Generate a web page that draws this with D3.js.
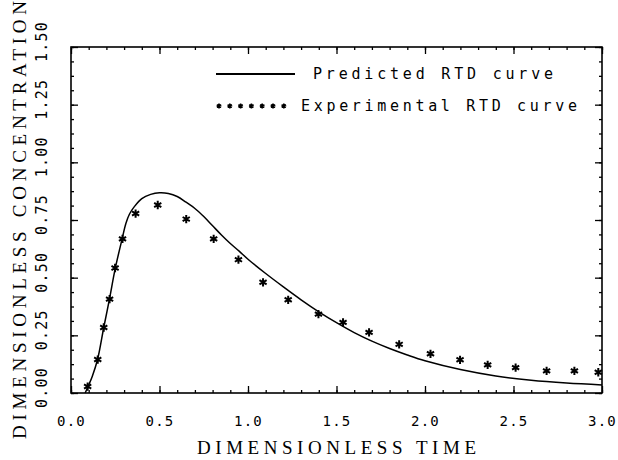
<!DOCTYPE html>
<html><head><meta charset="utf-8">
<script src="https://cdn.jsdelivr.net/npm/d3@7"></script>
<style>body{margin:0;background:#fff}</style>
</head><body><svg id="c" width="618" height="460"></svg>
<script>
const xTicks=[0,0.5,1,1.5,2,2.5,3];
const yTicks=[0,0.25,0.5,0.75,1,1.25,1.5];
const xTickLabels=["0.0","0.5","1.0","1.5","2.0","2.5","3.0"];
const yTickLabels=["0.00","0.25","0.50","0.75","1.00","1.25","1.50"];
const predT=[0.08,0.10,0.12,0.15,0.185,0.218,0.25,0.29,0.31,0.33,0.36,0.40,0.45,0.50,0.55,0.60,0.65,0.70,0.75,0.80,0.85,0.90,0.95,1.00,1.10,1.20,1.30,1.40,1.50,1.60,1.70,1.80,1.90,2.00,2.20,2.40,2.60,2.80,3.00];
const predC=[0.0,0.035,0.072,0.145,0.284,0.41,0.54,0.672,0.735,0.775,0.810,0.843,0.861,0.868,0.865,0.852,0.827,0.800,0.765,0.725,0.685,0.648,0.615,0.580,0.518,0.460,0.404,0.352,0.305,0.262,0.225,0.193,0.165,0.140,0.102,0.074,0.055,0.043,0.035];
const expT=[0.094,0.151,0.185,0.218,0.249,0.291,0.365,0.490,0.651,0.806,0.946,1.085,1.227,1.398,1.537,1.684,1.854,2.031,2.198,2.354,2.512,2.687,2.844,2.979];
const expC=[0.028,0.145,0.284,0.407,0.542,0.668,0.778,0.815,0.754,0.668,0.578,0.480,0.404,0.342,0.306,0.263,0.211,0.170,0.144,0.122,0.110,0.096,0.096,0.090];
const legendLabels=["Predicted RTD curve","Experimental RTD curve"];
const xTitle="DIMENSIONLESS TIME";
const yTitle="DIMENSIONLESS CONCENTRATION";

const svg=d3.select("#c");
const L=71,R=602,T=47,B=393;
const x=d3.scaleLinear().domain([0,3]).range([L,R]);
const y=d3.scaleLinear().domain([0,1.5]).range([B,T]);
const xMinor=d3.range(0,3.001,0.1);
const yMinor=d3.range(0,1.5001,0.0625);
const monoFont="'DejaVu Sans Mono', monospace";
const serifFont="'Liberation Serif', 'DejaVu Serif', serif";

function styleAxis(g){g.select(".domain").remove();g.selectAll("line").attr("stroke","#000").attr("stroke-width",1.3);}

// minor ticks
svg.append("g").attr("transform",`translate(0,${B})`).call(d3.axisBottom(x).tickValues(xMinor).tickSize(-3).tickFormat("")).call(styleAxis);
svg.append("g").attr("transform",`translate(0,${T})`).call(d3.axisTop(x).tickValues(xMinor).tickSize(-3).tickFormat("")).call(styleAxis);
svg.append("g").attr("transform",`translate(${L},0)`).call(d3.axisLeft(y).tickValues(yMinor).tickSize(-3).tickFormat("")).call(styleAxis);
svg.append("g").attr("transform",`translate(${R},0)`).call(d3.axisRight(y).tickValues(yMinor).tickSize(-3).tickFormat("")).call(styleAxis);

// major ticks + labels
const gx=svg.append("g").attr("transform",`translate(0,${B})`)
  .call(d3.axisBottom(x).tickValues(xTicks).tickSize(-7).tickFormat((d,i)=>xTickLabels[i])).call(styleAxis);
gx.selectAll("text").attr("y",28).attr("dy","0.35em").attr("font-family",monoFont).attr("font-size",14).attr("letter-spacing",1.2).attr("fill","#000");
svg.append("g").attr("transform",`translate(0,${T})`).call(d3.axisTop(x).tickValues(xTicks).tickSize(-7).tickFormat("")).call(styleAxis);
const gy=svg.append("g").attr("transform",`translate(${L},0)`)
  .call(d3.axisLeft(y).tickValues(yTicks).tickSize(-7).tickFormat((d,i)=>yTickLabels[i])).call(styleAxis);
gy.selectAll("text").attr("x",null).attr("dy",null).attr("text-anchor","middle").attr("dominant-baseline","central")
  .attr("transform","translate(-29,-6) rotate(-90)").attr("font-family",monoFont).attr("font-size",15).attr("letter-spacing",1.2).attr("fill","#000");
svg.append("g").attr("transform",`translate(${R},0)`).call(d3.axisRight(y).tickValues(yTicks).tickSize(-7).tickFormat("")).call(styleAxis);

// frame
svg.append("rect").attr("x",L).attr("y",T).attr("width",R-L).attr("height",B-T).attr("fill","none").attr("stroke","#000").attr("stroke-width",1.6);

// titles
svg.append("text").attr("x",(L+R)/2).attr("y",447).attr("text-anchor","middle").attr("dominant-baseline","central")
  .attr("font-family",serifFont).attr("font-size",19).attr("textLength",279).attr("lengthAdjust","spacing").attr("fill","#000").text(xTitle);
svg.append("text").attr("transform",`translate(19,${(T+B)/2}) rotate(-90)`).attr("text-anchor","middle").attr("dominant-baseline","central")
  .attr("font-family",serifFont).attr("font-size",19).attr("textLength",438).attr("lengthAdjust","spacing").attr("fill","#000").text(yTitle);

// predicted curve
const line=d3.line().x((d,i)=>x(predT[i])).y((d,i)=>y(predC[i])).curve(d3.curveCatmullRom.alpha(0.5));
svg.append("path").datum(predT).attr("d",line).attr("fill","none").attr("stroke","#000").attr("stroke-width",1.5);

// experimental stars
const star=d3.symbol(d3.symbolAsterisk,48);
svg.append("g").selectAll("path").data(expT).join("path")
  .attr("transform",(d,i)=>`translate(${x(d)},${y(expC[i])})`).attr("d",star)
  .attr("fill","none").attr("stroke","#000").attr("stroke-width",2);

// legend
const ly1=74, ly2=106;
svg.append("line").attr("x1",216).attr("x2",295).attr("y1",ly1).attr("y2",ly1).attr("stroke","#000").attr("stroke-width",2);
const smallStar=d3.symbol(d3.symbolAsterisk,18);
svg.append("g").selectAll("path").data(d3.range(7)).join("path")
  .attr("transform",d=>`translate(${219+d*10.8},${ly2})`).attr("d",smallStar)
  .attr("fill","none").attr("stroke","#000").attr("stroke-width",1.6);
svg.append("text").attr("x",313).attr("y",ly1).attr("dominant-baseline","central").attr("font-family",monoFont).attr("font-size",15)
  .attr("textLength",240).attr("lengthAdjust","spacing").attr("fill","#000").text(legendLabels[0]);
svg.append("text").attr("x",301).attr("y",ly2).attr("dominant-baseline","central").attr("font-family",monoFont).attr("font-size",15)
  .attr("textLength",276).attr("lengthAdjust","spacing").attr("fill","#000").text(legendLabels[1]);
</script></body></html>
